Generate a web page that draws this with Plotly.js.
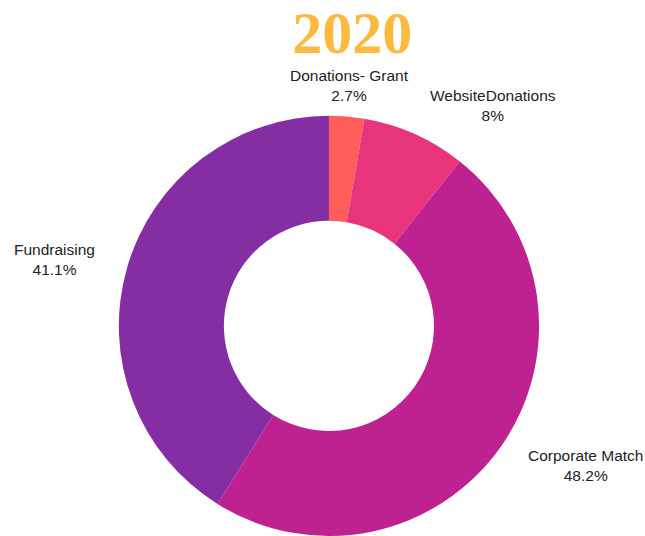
<!DOCTYPE html>
<html>
<head>
<meta charset="utf-8">
<script src="https://cdn.plot.ly/plotly-3.0.1.min.js"></script>
<style>html,body{margin:0;padding:0;background:#fff;}#chart{width:645px;height:536px;}</style>
</head>
<body>
<div id="chart"></div>
<script>
var titleText = "2020";
var categories = ["Donations- Grant", "WebsiteDonations", "Corporate Match", "Fundraising"];
var values = [2.7, 8, 48.2, 41.1];
var sliceColors = ["#FF5E5B", "#E8347A", "#BE2290", "#852DA2"];

var W = 645, H = 536;
var dom = {x: [0.183, 0.837], y: [0, 0.784]};

var data = [{
  type: "pie",
  labels: categories,
  values: values,
  hole: 0.5,
  sort: false,
  direction: "clockwise",
  rotation: 0,
  marker: {colors: sliceColors, line: {width: 0}},
  textinfo: "none",
  domain: dom,
  showlegend: false,
  hoverinfo: "label+percent"
}];

// outside labels placed along each slice's mid-angle (derived from the values)
function fmtPct(v) {
  var t = (v * 100).toPrecision(3);
  if (t.indexOf('.') !== -1) t = t.replace(/[.]?0+$/, '');
  return t + '%';
}
var total = values.reduce(function (a, b) { return a + b; }, 0);
var wpx = (dom.x[1] - dom.x[0]) * W, hpx = (dom.y[1] - dom.y[0]) * H;
var rpx = Math.min(wpx, hpx) / 2;
var cx = (dom.x[0] + dom.x[1]) / 2 * W;
var cy = (dom.y[0] + dom.y[1]) / 2 * H; // from bottom
var labelR = rpx * 1.15;
var annotations = [];
var cum = 0;
for (var i = 0; i < values.length; i++) {
  var frac = values[i] / total;
  var mid = (cum + frac / 2) * 2 * Math.PI;
  cum += frac;
  var s = Math.sin(mid), c = Math.cos(mid);
  var px = cx + labelR * s, py = cy + labelR * c;
  var xa = Math.abs(s) < 0.2 ? "center" : (s > 0 ? "left" : "right");
  annotations.push({
    xref: "paper", yref: "paper",
    x: px / W, y: py / H,
    xanchor: xa, yanchor: "middle",
    showarrow: false,
    align: "center",
    text: categories[i] + "<br>" + fmtPct(frac),
    font: {family: "Liberation Sans, Arial, sans-serif", size: 15.5, color: "#222222"}
  });
}

var layout = {
  width: W,
  height: H,
  margin: {l: 0, r: 0, t: 0, b: 0},
  paper_bgcolor: "#ffffff",
  title: {
    text: "<b>" + titleText + "</b>",
    font: {family: "Liberation Serif, DejaVu Serif, serif", size: 60, color: "#FBBA3F"},
    x: 0.546,
    xanchor: "center",
    y: 0.94,
    yanchor: "middle"
  },
  annotations: annotations,
  showlegend: false
};

Plotly.newPlot("chart", data, layout, {displayModeBar: false, staticPlot: true});
</script>
</body>
</html>
